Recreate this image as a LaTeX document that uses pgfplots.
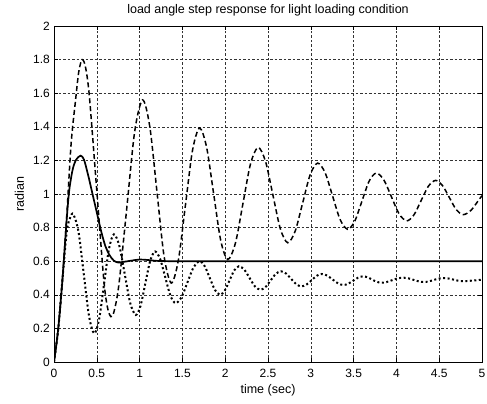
\documentclass[border=0pt]{standalone}
\usepackage{fontspec}
\setmainfont{Liberation Sans}
\usepackage{pgfplots}
\pgfplotsset{compat=1.18}
\begin{document}
\begin{tikzpicture}
\begin{axis}[
  scale only axis,
  width=428pt, height=336pt,
  xmin=0, xmax=5, ymin=0, ymax=2,
  xtick={0,0.5,1,1.5,2,2.5,3,3.5,4,4.5,5},
  xticklabels={0,0.5,1,1.5,2,2.5,3,3.5,4,4.5,5},
  ytick={0,0.2,0.4,0.6,0.8,1,1.2,1.4,1.6,1.8,2},
  yticklabels={0,0.2,0.4,0.6,0.8,1,1.2,1.4,1.6,1.8,2},
  tick align=inside,
  major tick length=4pt,
  xtick pos=both, ytick pos=both,
  tick style={black, line width=0.5pt},
  axis line style={black, line width=0.6pt},
  grid=major,
  major grid style={black!80, line width=0.5pt, dash pattern=on 2.5pt off 2pt},
  /pgf/number format/assume math mode=true,
  xticklabel style={font=\fontsize{12}{14}\selectfont, anchor=north, inner sep=0pt, yshift=-7pt},
  yticklabel style={font=\fontsize{12}{14}\selectfont, anchor=east, inner sep=0pt, xshift=-4pt},
  title={load angle step response for light loading condition},
  title style={font=\fontsize{12.5}{14}\selectfont, at={(axis description cs:0.5,1.0208)}, anchor=base, inner sep=0pt},
  xlabel={time (sec)},
  xlabel style={font=\fontsize{12.5}{14}\selectfont, at={(axis description cs:0.5,-0.0923)}, anchor=base, inner sep=0pt},
  ylabel={radian},
  ylabel style={font=\fontsize{12.5}{14}\selectfont, at={(axis description cs:-0.0701,0.5)}, anchor=base, inner sep=0pt},
]
% dashed series
\addplot[black, line width=1.5pt, dash pattern=on 5pt off 3pt, smooth] coordinates {
(0,0)(0.05,0.2)(0.1,0.5)(0.15,0.88)(0.2,1.3)(0.25,1.55)(0.29,1.73)(0.33,1.8)(0.37,1.75)(0.414,1.577)(0.4975,1.035)(0.581,0.493)(0.625,0.324)(0.665,0.27)(0.7,0.298)(0.7575,0.458)(0.85,0.915)(0.9425,1.372)(1.035,1.56)(1.119,1.401)(1.2025,1.015)(1.286,0.629)(1.37,0.47)(1.4525,0.605)(1.535,0.9315)(1.6175,1.258)(1.70,1.393)(1.7825,1.279)(1.865,1.0015)(1.9475,0.724)(2.03,0.61)(2.119,0.707)(2.2075,0.9435)(2.296,1.18)(2.385,1.277)(2.471,1.194)(2.5575,0.9935)(2.644,0.793)(2.73,0.71)(2.8175,0.779)(2.905,0.947)(2.9925,1.115)(3.08,1.184)(3.1675,1.126)(3.255,0.987)(3.3425,0.848)(3.43,0.79)(3.514,0.839)(3.5975,0.9575)(3.681,1.076)(3.765,1.125)(3.854,1.083)(3.9425,0.9825)(4.031,0.882)(4.12,0.84)(4.204,0.875)(4.2885,0.9605)(4.373,1.046)(4.457,1.081)(4.538,1.051)(4.6185,0.979)(4.699,0.907)(4.78,0.877)(4.87,0.902)(4.96,0.963)(5,0.99)
};
% solid series
\addplot[black, line width=1.7pt, smooth] coordinates {
(0,0)(0.05,0.2)(0.1,0.5)(0.15,0.86)(0.18,1.03)(0.22,1.15)(0.26,1.205)(0.31,1.228)(0.35,1.205)(0.4,1.11)(0.45,1.0)(0.5,0.89)(0.55,0.78)(0.6,0.69)(0.65,0.635)(0.7,0.603)(0.75,0.592)(0.8,0.595)(0.9,0.603)(1.0,0.61)(1.1,0.607)(1.2,0.602)(1.4,0.6)(2,0.6)(3,0.6)(4,0.6)(5,0.6)
};
% dotted series
\addplot[black, line width=2pt, dash pattern=on 2pt off 2.5pt, smooth] coordinates {
(0,0)(0.05,0.2)(0.1,0.5)(0.15,0.78)(0.19,0.86)(0.225,0.88)(0.286,0.776)(0.3475,0.525)(0.409,0.274)(0.47,0.17)(0.5275,0.256)(0.585,0.465)(0.6425,0.674)(0.70,0.76)(0.764,0.69)(0.8275,0.52)(0.891,0.35)(0.955,0.28)(1.011,0.335)(1.0675,0.469)(1.124,0.603)(1.18,0.658)(1.24,0.613)(1.30,0.504)(1.36,0.395)(1.42,0.35)(1.49,0.3865)(1.56,0.475)(1.63,0.5635)(1.70,0.60)(1.76,0.571)(1.82,0.5)(1.88,0.429)(1.94,0.40)(1.995,0.425)(2.05,0.485)(2.105,0.545)(2.16,0.57)(2.2225,0.55)(2.285,0.5)(2.3475,0.45)(2.41,0.43)(2.47,0.446)(2.53,0.485)(2.59,0.524)(2.65,0.54)(2.71,0.527)(2.77,0.495)(2.83,0.463)(2.89,0.45)(2.95,0.461)(3.01,0.487)(3.07,0.513)(3.13,0.524)(3.1925,0.514)(3.255,0.491)(3.3175,0.468)(3.38,0.458)(3.4375,0.466)(3.495,0.484)(3.5525,0.502)(3.61,0.51)(3.6625,0.504)(3.715,0.491)(3.7675,0.478)(3.82,0.472)(3.885,0.476)(3.95,0.487)(4.015,0.498)(4.08,0.502)(4.14,0.498)(4.20,0.489)(4.26,0.48)(4.32,0.476)(4.3775,0.4795)(4.435,0.488)(4.4925,0.4965)(4.55,0.5)(4.6075,0.497)(4.665,0.4905)(4.7225,0.484)(4.78,0.481)(4.85,0.483)(4.92,0.486)(5.0,0.49)
};
\end{axis}
\pgfresetboundingbox
\path ([shift={(-54pt,-41pt)}]current axis.south west) rectangle ([shift={(5pt,26pt)}]current axis.north east);
\end{tikzpicture}
\end{document}
